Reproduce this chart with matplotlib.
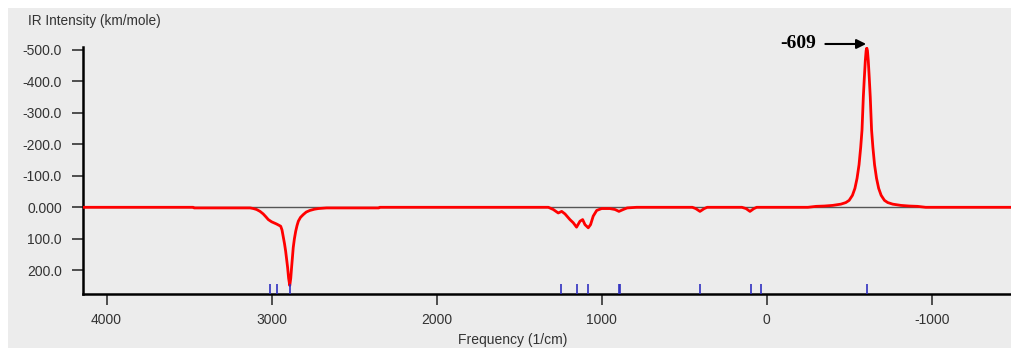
import matplotlib
matplotlib.use('Agg')
import matplotlib.pyplot as plt
from matplotlib.patches import Rectangle

plt.rcParams['axes.unicode_minus'] = False

# Broadened IR spectrum (freq in 1/cm, intensity in km/mole)
freq = [4145, 3475, 3470, 3130, 3110, 3091, 3070, 3051, 3035, 3020, 3000, 2970, 2945,
        2937, 2930, 2922, 2915, 2909, 2903, 2897, 2890, 2884, 2879, 2874, 2869, 2862,
        2854, 2846, 2838, 2825, 2808, 2790, 2768, 2740, 2717, 2667, 2350, 2345,
        1323, 1293, 1263, 1242, 1222, 1192, 1172, 1152, 1131, 1115, 1101, 1081,
        1067, 1051, 1030, 1000, 950, 919, 895, 869, 845, 788,
        450, 430, 404, 378, 360, 150, 125, 101, 77, 60,
        -250, -300, -350, -400, -450, -480, -500, -520, -535, -548, -560, -570,
        -578, -586, -592, -598, -603, -607, -611, -616, -622, -628, -636, -644,
        -654, -666, -679, -694, -714, -734, -764, -814, -864, -914, -964, -1487]
intensity = [0, 0, 2, 2, 4, 7, 13, 21, 30, 39, 46, 53, 60,
             72, 92, 115, 139, 165, 191, 225, 248, 225, 191, 160, 128, 100,
             76, 58, 44, 32, 23, 15, 10, 6, 4, 2, 2, 0,
             0, 7, 18, 13, 21, 39, 49, 63, 44, 39, 55, 65,
             55, 28, 10, 4, 4, 7, 13, 7, 2, 0,
             0, 4, 13, 4, 0, 0, 4, 13, 4, 0,
             0, -3, -4, -6, -10, -15, -22, -38, -60, -92, -135, -190,
             -245, -350, -410, -465, -497, -505, -497, -465, -410, -350, -245, -190,
             -135, -92, -60, -38, -22, -15, -10, -6, -4, -3, 0, 0]

# calculated normal modes shown as sticks
modes = [3010, 2970, 2889, 1247, 1148, 1081, 895, 889, 402, 97, 36, -609]

ytick_vals = [-500, -400, -300, -200, -100, 0, 100, 200]
ytick_labels = ['-500.0', '-400.0', '-300.0', '-200.0', '-100.0', '0.000', '100.0', '200.0']
xtick_vals = [4000, 3000, 2000, 1000, 0, -1000]

bg = '#ececec'
fig = plt.figure(figsize=(10.12, 3.51), dpi=100, facecolor='white')
fig.patches.append(Rectangle((8 / 1012, 3 / 351), 1 - 8 / 1012, 1 - 11 / 351,
                             transform=fig.transFigure, facecolor=bg,
                             edgecolor='none', zorder=-10))
ax = fig.add_axes([0.0817, 0.1624, 1 - 0.0817, 0.8675 - 0.1624])
ax.set_facecolor('none')

ax.axhline(0, color='#555555', lw=1.0, zorder=2)
ax.plot(freq, intensity, color='#ff0000', lw=2.0, zorder=3, solid_joinstyle='round')
ax.vlines(modes, 0, 0.042, transform=ax.get_xaxis_transform(),
          color='#3030c0', lw=1.2, zorder=3)

ax.set_xlim(4145, -1487)
ax.set_ylim(275, -510)

ax.spines['top'].set_visible(False)
ax.spines['right'].set_visible(False)
ax.spines['left'].set_linewidth(1.8)
ax.spines['bottom'].set_linewidth(1.8)

ax.set_yticks(ytick_vals)
ax.set_yticklabels(ytick_labels)
ax.set_xticks(xtick_vals)
ax.tick_params(axis='both', direction='out', length=8, width=1.2,
               color='#333333', labelcolor='#333333', labelsize=10)
ax.tick_params(axis='y', pad=7)
ax.tick_params(axis='x', pad=6)
for lab in ax.get_xticklabels() + ax.get_yticklabels():
    lab.set_family('Liberation Sans')

fig.text(28 / 1012, 1 - 21 / 351, 'IR Intensity (km/mole)', ha='left', va='center',
         fontsize=9.8, color='#333333', family='Liberation Sans')
fig.text(513 / 1012, 1 - 340 / 351, 'Frequency (1/cm)', ha='center', va='center',
         fontsize=10, color='#333333', family='Liberation Sans')

ax.annotate('-609', xy=(-603, -518), xytext=(-297, -518),
            ha='right', va='center', fontsize=14, fontweight='bold',
            family='Liberation Serif', annotation_clip=False,
            arrowprops=dict(arrowstyle='-|>', color='black', lw=1.5,
                            shrinkA=5, shrinkB=0, mutation_scale=14))

plt.savefig('out.png', dpi=100, facecolor=fig.get_facecolor())
plt.close()
